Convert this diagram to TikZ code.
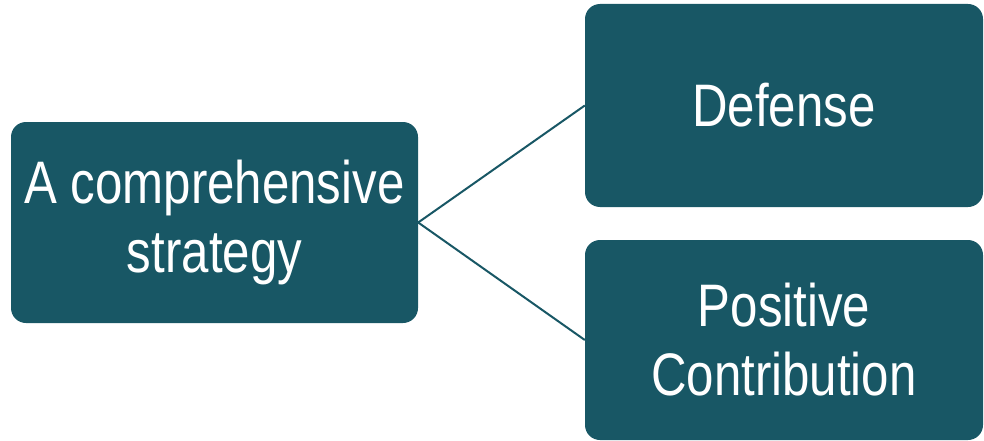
\documentclass[tikz,border=0pt]{standalone}
\usepackage{fontspec}
\setmainfont[FakeStretch=0.82]{Liberation Sans}
\definecolor{tealbox}{RGB}{24,87,101}
\begin{document}
\begin{tikzpicture}[
        x=1pt, y=-1pt,
        box/.style={fill=tealbox, text=white, rounded corners=15pt, align=center,
            font=\fontsize{60}{69}\selectfont, inner sep=0pt}, % Box styling
        link/.style={draw=tealbox, line width=2pt} % Connector styling
        ]
        \useasboundingbox (0,0) rectangle (984,441);

        % Define nodes
        \node (strategy) [box, minimum width=407pt, minimum height=201pt] at (214.5,222.5) {A comprehensive\\strategy};
        \node (defense) [box, minimum width=398pt, minimum height=203pt] at (784,105.5) {Defense};
        \node (contribution) [box, minimum width=398pt, minimum height=200pt] at (784,340) {Positive\\Contribution};

        % Draw connectors
        \draw[link] (strategy.east) -- (defense.west);
        \draw[link] (strategy.east) -- (contribution.west);

\end{tikzpicture}
\end{document}
